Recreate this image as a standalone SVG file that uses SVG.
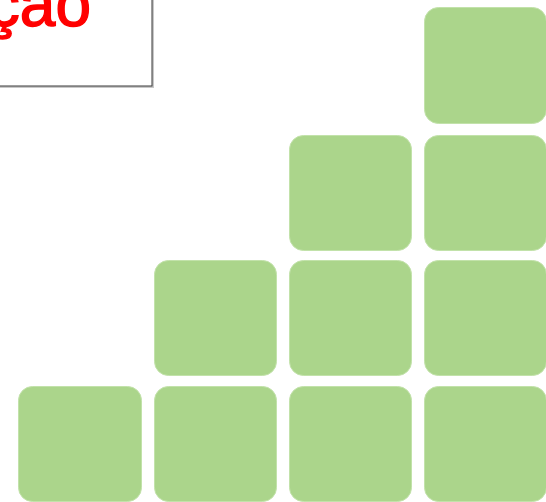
<svg xmlns="http://www.w3.org/2000/svg" width="546" height="502" viewBox="0 0 546 502">
<style>
.sq{fill:#abd58b;stroke:#c2e2aa;stroke-width:1}
.lbl{font-family:"Liberation Sans",Arial,sans-serif;font-weight:normal;font-size:64px;fill:#ff0000;stroke:#ff0000;stroke-width:1.4}
</style>
<rect width="546" height="502" fill="#ffffff"/>
<g id="title">
<rect x="-10" y="-10" width="164" height="98" fill="#c8c8c8"/>
<rect x="-10" y="-10" width="162" height="96" fill="#ffffff" stroke="#3a3a3a" stroke-width="1"/>
<text class="lbl" x="91" y="26" text-anchor="end">ção</text>
</g>
<g id="r1c4"><rect class="sq" x="424.5" y="7.5" width="122" height="116" rx="14"/></g>
<g id="r2c3"><rect class="sq" x="289.5" y="135.5" width="122" height="115" rx="14"/></g>
<g id="r2c4"><rect class="sq" x="424.5" y="135.5" width="122" height="115" rx="14"/></g>
<g id="r3c2"><rect class="sq" x="154.5" y="260.5" width="122" height="115" rx="14"/></g>
<g id="r3c3"><rect class="sq" x="289.5" y="260.5" width="122" height="115" rx="14"/></g>
<g id="r3c4"><rect class="sq" x="424.5" y="260.5" width="122" height="115" rx="14"/></g>
<g id="r4c1"><rect class="sq" x="18.5" y="386.5" width="123" height="115" rx="14"/></g>
<g id="r4c2"><rect class="sq" x="154.5" y="386.5" width="122" height="115" rx="14"/></g>
<g id="r4c3"><rect class="sq" x="289.5" y="386.5" width="122" height="115" rx="14"/></g>
<g id="r4c4"><rect class="sq" x="424.5" y="386.5" width="122" height="115" rx="14"/></g>
<g id="connectors"/>
</svg>
